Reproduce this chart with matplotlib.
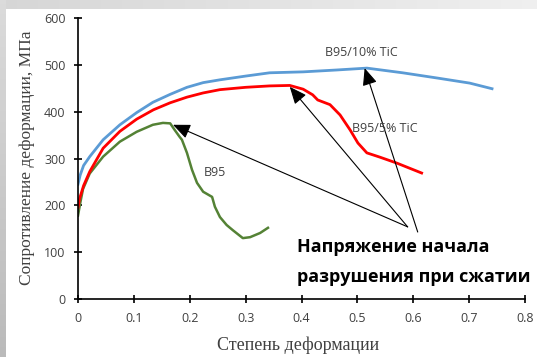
import numpy as np
import matplotlib
matplotlib.use("Agg")
import matplotlib.pyplot as plt

# Strain vs. flow stress (MPa)
x_b95 = [0, 0.004, 0.009, 0.021, 0.045, 0.075, 0.105, 0.134, 0.152, 0.165, 0.173, 0.182,
         0.186, 0.195, 0.204, 0.213, 0.224, 0.24, 0.245, 0.254, 0.266, 0.277, 0.295, 0.308,
         0.326, 0.34]
y_b95 = [178, 205, 235, 268, 304, 336, 357, 372, 376, 375, 361, 346, 340, 312, 276, 248,
         229, 218, 197, 175, 158, 147, 130, 132, 141, 152]

x_5tic = [0, 0.003, 0.01, 0.021, 0.045, 0.075, 0.105, 0.135, 0.165, 0.195, 0.224, 0.254,
          0.3, 0.343, 0.379, 0.403, 0.42, 0.429, 0.451, 0.469, 0.487, 0.501, 0.517, 0.54,
          0.571, 0.594, 0.615]
y_5tic = [195, 215, 242, 272, 322, 358, 384, 404, 419, 431, 440, 447, 452, 455, 456, 448,
          436, 425, 415, 393, 361, 333, 312, 303, 290, 279, 269]

x_10tic = [0, 0.004, 0.01, 0.021, 0.045, 0.075, 0.105, 0.134, 0.165, 0.195, 0.224, 0.254,
           0.3, 0.343, 0.403, 0.463, 0.517, 0.581, 0.642, 0.701, 0.741]
y_10tic = [245, 265, 285, 304, 340, 372, 398, 420, 437, 452, 462, 468, 476, 483, 485, 489,
           493, 483, 472, 461, 449]

# peaks = onset of failure, arrows point here
peaks = [(0.17, 372), (0.379, 453), (0.513, 493)]
tails = [(0.590, 154), (0.590, 154), (0.608, 143)]

xticks = [0, 0.1, 0.2, 0.3, 0.4, 0.5, 0.6, 0.7, 0.8]
yticks = [0, 100, 200, 300, 400, 500, 600]

W, H = 537, 357
fig = plt.figure(figsize=(W / 100, H / 100), dpi=100)

# grey slide frame behind the chart
bg = fig.add_axes([0, 0, 1, 1], zorder=-5)
img = np.ones((H, W, 3))
top = np.linspace(0.84, 0.94, W)
img[:9, :, :] = top[None, :, None]
left = np.linspace(0.86, 0.73, H)
img[:, :6, :] = left[:, None, None]
bg.imshow(img, aspect="auto", extent=[0, 1, 0, 1])
bg.set_axis_off()

ax = fig.add_axes([78 / W, 1 - 299 / H, 447 / W, 281 / H])
ax.patch.set_alpha(0)

ax.plot(x_b95, y_b95, color="#548235", lw=1.8)
ax.plot(x_5tic, y_5tic, color="#ff0000", lw=2.0)
ax.plot(x_10tic, y_10tic, color="#5b9bd5", lw=2.0)

for tip, tail in zip(peaks, tails):
    ax.annotate("", xy=tip, xytext=tail,
                arrowprops=dict(arrowstyle="-|>,head_length=0.7,head_width=0.3",
                                color="black", lw=0.8, shrinkA=0, shrinkB=0,
                                mutation_scale=15))

lab_font = ["Open Sans", "DejaVu Sans"]
ax.text(0.508, 526, "B95/10% TiC", fontsize=9, color="#404040", ha="center", va="center",
        family=lab_font)
ax.text(0.549, 365, "B95/5% TiC", fontsize=9, color="#404040", ha="center", va="center",
        family=lab_font)
ax.text(0.245, 271, "B95", fontsize=9, color="#404040", ha="center", va="center",
        family=lab_font)

ax.text(0.392, 111, "Напряжение начала", fontsize=13, fontweight="bold", color="black",
        ha="left", va="center", family=lab_font)
ax.text(0.392, 47, "разрушения при сжатии", fontsize=13, fontweight="bold", color="black",
        ha="left", va="center", family=lab_font)

ax.set_xlim(0, 0.8)
ax.set_ylim(0, 600)
ax.set_xticks(xticks)
ax.set_xticklabels([f"{t:g}" for t in xticks])
ax.set_yticks(yticks)
ax.spines["top"].set_visible(False)
ax.spines["right"].set_visible(False)
ax.spines["left"].set_linewidth(1.2)
ax.spines["bottom"].set_linewidth(1.2)
ax.tick_params(direction="inout", length=6, width=1.2, labelsize=9, labelcolor="#404040",
               pad=6)
for lbl in ax.get_xticklabels() + ax.get_yticklabels():
    lbl.set_family(lab_font)

fig.text(298 / W, 1 - 345 / H, "Степень деформации", fontsize=13, family="Liberation Serif",
         color="#404040", ha="center", va="center")
fig.text(27 / W, 1 - 158 / H, "Сопротивление деформации, МПа", fontsize=12.5,
         family="Liberation Serif", color="#404040", ha="center", va="center", rotation=90)

fig.savefig("out.png", dpi=100)
